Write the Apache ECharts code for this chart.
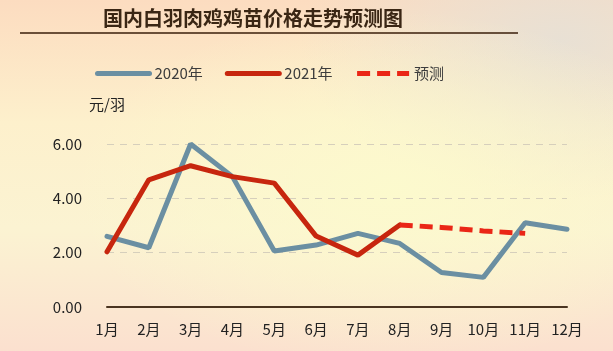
<!DOCTYPE html>
<html>
<head>
<meta charset="utf-8">
<script src="https://cdn.jsdelivr.net/npm/echarts@6/dist/echarts.min.js"></script>
<style>
html,body{margin:0;padding:0;}
body{
  width:613px;height:351px;overflow:hidden;
  background:
    radial-gradient(ellipse 320px 180px at 390px 190px, rgba(252,250,205,0.95), rgba(252,250,205,0) 100%),
    radial-gradient(ellipse 260px 160px at 560px 40px, rgba(230,224,214,0.9), rgba(230,224,214,0) 100%),
    linear-gradient(180deg, #fcdcc0 0%, #fdf0cc 35%, #fbf3d2 65%, #fbe0cf 100%);
}
#chart{width:613px;height:351px;}
</style>
</head>
<body>
<div id="chart"></div>
<script>
// 月份
var months = ['1月','2月','3月','4月','5月','6月','7月','8月','9月','10月','11月','12月'];
// 2020年 鸡苗价格 (元/羽)
var price2020 = [2.6, 2.18, 6.0, 4.8, 2.06, 2.28, 2.71, 2.34, 1.27, 1.09, 3.1, 2.86];
// 2021年
var price2021 = [2.03, 4.68, 5.2, 4.8, 4.56, 2.61, 1.91, 3.02, null, null, null, null];
// 预测
var forecast = [null, null, null, null, null, null, null, 3.02, 2.93, 2.8, 2.71, null];

var font = 'Noto Sans CJK SC';
var chart = echarts.init(document.getElementById('chart'));

var option = {
    backgroundColor: 'transparent',
    textStyle: {fontFamily: font},
    title: {
        text: '国内白羽肉鸡鸡苗价格走势预测图',
        left: 98,
        top: 3,
        textStyle: {
            fontFamily: font,
            fontSize: 20,
            fontWeight: 'bold',
            color: '#3a2614'
        }
    },
    graphic: [{
        type: 'line',
        shape: {x1: 20, y1: 33, x2: 518, y2: 33},
        style: {stroke: '#3a1e0a', lineWidth: 1.5}
    }],
    legend: {
        left: 90,
        top: 61,
        itemWidth: 52,
        itemHeight: 10,
        itemGap: 22,
        itemStyle: {opacity: 0},
        lineStyle: {width: 5},
        data: ['2020年', '2021年', '预测'],
        textStyle: {fontFamily: font, fontSize: 15, color: '#3c3c3c'}
    },
    grid: {
        left: 107,
        right: 46,
        top: 144,
        bottom: 44
    },
    xAxis: {
        type: 'category',
        data: months,
        boundaryGap: false,
        axisLine: {lineStyle: {color: '#4a3420', width: 2}},
        axisTick: {show: false},
        axisLabel: {
            color: '#222',
            fontSize: 15,
            margin: 15,
            fontFamily: font
        }
    },
    yAxis: {
        type: 'value',
        min: 0,
        max: 6,
        interval: 2,
        name: '元/羽',
        nameLocation: 'end',
        nameGap: 32,
        nameTextStyle: {color: '#222', fontSize: 15, fontFamily: font, align: 'center'},
        axisLine: {show: false},
        axisTick: {show: false},
        axisLabel: {
            color: '#222',
            fontSize: 15,
            margin: 25,
            fontFamily: font,
            formatter: function (v) { return v.toFixed(2); }
        },
        splitLine: {
            lineStyle: {color: '#d6cfbc', type: [7, 6], width: 1.2}
        }
    },
    series: [
        {
            name: '2020年',
            type: 'line',
            data: price2020,
            symbol: 'none',
            color: '#6b8fa2',
            lineStyle: {width: 5, color: '#6b8fa2', cap: 'round'},
            z: 2
        },
        {
            name: '2021年',
            type: 'line',
            data: price2021,
            symbol: 'none',
            color: '#c7260e',
            lineStyle: {width: 5, color: '#c7260e', cap: 'round'},
            z: 3
        },
        {
            name: '预测',
            type: 'line',
            data: forecast,
            symbol: 'none',
            color: '#ea2616',
            lineStyle: {width: 5, color: '#ea2616', type: [13, 7]},
            z: 3
        }
    ]
};

chart.setOption(option);
</script>
</body>
</html>
